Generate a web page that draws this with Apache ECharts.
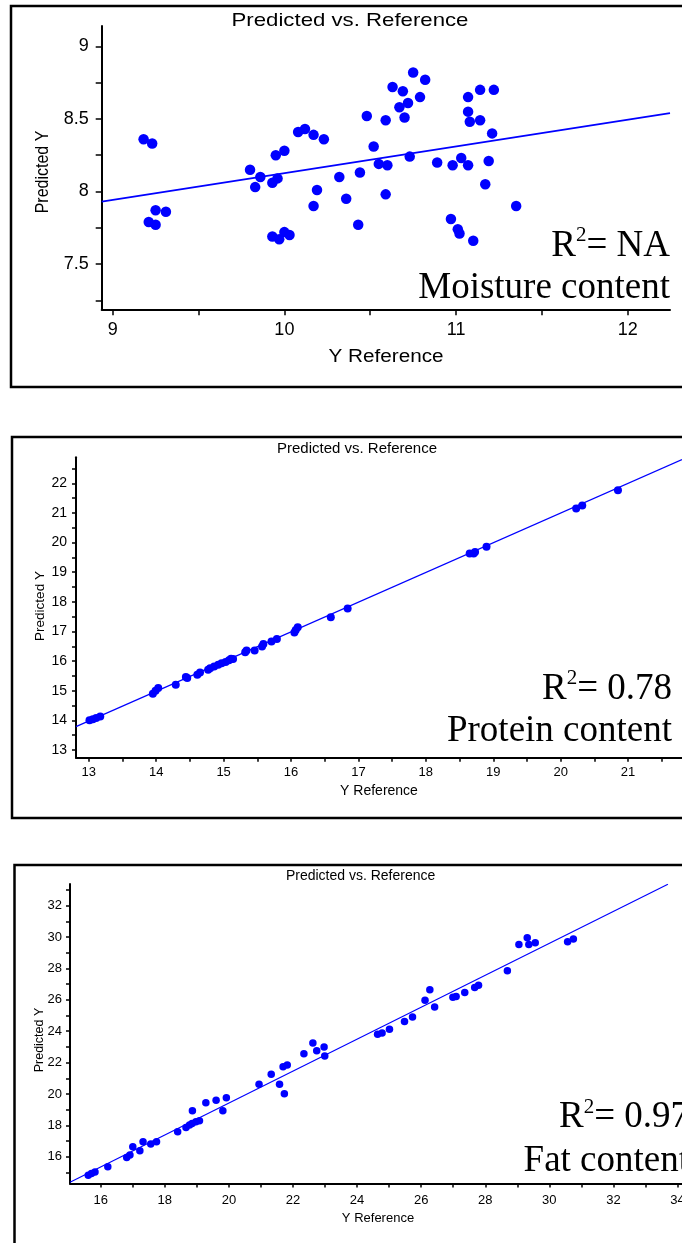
<!DOCTYPE html>
<html>
<head>
<meta charset="utf-8">
<script src="https://cdn.jsdelivr.net/npm/echarts@6/dist/echarts.min.js"></script>
<style>
  html, body { margin: 0; padding: 0; background: #fff; }
  #main { width: 682px; height: 1243px; }
</style>
</head>
<body>
<div id="main"></div>
<script>
// moisture panel
var moistureRef = [9.18, 9.23, 9.80, 9.86, 9.83, 9.93, 9.96, 9.95, 10.00, 10.08, 10.12, 10.17, 10.23, 10.19, 10.32,
    10.36, 10.44, 10.48, 10.52, 10.55, 10.60, 10.59, 10.59, 10.63, 10.67, 10.69, 10.72, 10.70, 10.73, 10.75,
    10.79, 10.82, 10.89, 10.98, 11.03, 11.07, 11.07, 11.07, 11.08, 11.14, 11.14, 11.22, 11.21, 11.19, 11.17,
    9.21, 9.25, 9.25, 9.31, 10.17, 9.93, 9.97, 10.00, 10.03, 10.43, 10.97, 11.01, 11.02, 11.10, 11.35];
var moisturePred = [8.36, 8.33, 8.15, 8.10, 8.03, 8.06, 8.09, 8.25, 8.28, 8.41, 8.43, 8.39, 8.36, 8.01, 8.10,
    7.95, 8.13, 8.52, 8.31, 8.19, 8.18, 8.49, 7.98, 8.72, 8.58, 8.69, 8.61, 8.51, 8.24, 8.82,
    8.65, 8.77, 8.20, 8.18, 8.23, 8.18, 8.65, 8.55, 8.48, 8.49, 8.70, 8.70, 8.40, 8.21, 8.05,
    7.79, 7.87, 7.77, 7.86, 7.90, 7.69, 7.67, 7.72, 7.70, 7.77, 7.81, 7.74, 7.71, 7.66, 7.90];
var moistureFitX = [8.936, 12.246];
var moistureFitY = [7.93, 8.54];
var moistureXLabels = [9, 10, 11, 12];
var moistureXTicks = [9, 9.5, 10, 10.5, 11, 11.5, 12];
var moistureYLabels = [7.5, 8, 8.5, 9];
var moistureYTicks = [7.25, 7.5, 7.75, 8, 8.25, 8.5, 8.75, 9];

// protein panel
var proteinRef = [20.85, 20.23, 20.32, 18.90, 18.65, 18.71, 18.73, 16.84, 16.59, 16.10, 16.05, 16.07, 15.79, 15.71,
    15.59, 15.57, 15.46, 15.34, 15.32, 15.14, 15.11, 15.08, 15.03, 14.97, 14.92, 14.86, 14.80, 14.77, 14.65,
    14.61, 14.46, 14.44, 14.29, 14.03, 13.99, 13.95, 13.17, 13.11, 13.06, 13.01];
var proteinPred = [21.77, 21.15, 21.25, 19.86, 19.63, 19.63, 19.68, 17.78, 17.48, 17.14, 16.97, 17.05, 16.75, 16.66,
    16.58, 16.49, 16.36, 16.36, 16.30, 16.07, 16.08, 16.03, 15.97, 15.93, 15.88, 15.82, 15.76, 15.71, 15.62,
    15.54, 15.43, 15.46, 15.20, 15.09, 15.00, 14.90, 14.13, 14.08, 14.04, 14.00];
var proteinFitX = [12.81, 21.80];
var proteinFitY = [13.79, 22.80];
var proteinXLabels = [13, 14, 15, 16, 17, 18, 19, 20, 21];
var proteinXTicks = [13, 13.5, 14, 14.5, 15, 15.5, 16, 16.5, 17, 17.5, 18, 18.5, 19, 19.5, 20, 20.5, 21, 21.5];
var proteinYLabels = [13, 14, 15, 16, 17, 18, 19, 20, 21, 22];
var proteinYTicks = [13, 13.5, 14, 14.5, 15, 15.5, 16, 16.5, 17, 17.5, 18, 18.5, 19, 19.5, 20, 20.5, 21, 21.5, 22, 22.5];

// fat panel
var fatRef = [30.75, 30.57, 29.56, 29.36, 29.31, 29.05, 28.69, 27.79, 27.67, 27.36, 27.09, 26.99, 26.27, 26.12,
    26.42, 25.73, 25.48, 25.01, 24.78, 24.64, 22.62, 22.97, 22.74, 22.34, 22.99, 21.82, 21.69, 21.32, 20.94,
    21.58, 21.73, 19.92, 19.60, 19.28, 18.86, 19.81, 19.08, 18.97, 18.85, 18.77, 18.66, 18.40, 17.74, 17.56,
    17.32, 17.22, 17.00, 16.91, 16.81, 16.22, 15.82, 15.71, 15.61];
var fatPred = [29.87, 29.70, 29.63, 29.53, 29.95, 29.53, 27.86, 26.93, 26.78, 26.46, 26.22, 26.16, 26.65, 25.97,
    25.54, 24.90, 24.62, 24.13, 23.88, 23.81, 23.25, 22.99, 22.75, 22.57, 22.43, 21.85, 21.74, 21.26, 20.62,
    20.62, 20.02, 19.77, 19.60, 19.45, 18.94, 18.94, 18.30, 18.23, 18.13, 18.02, 17.87, 17.60, 16.96, 16.81,
    16.96, 16.38, 16.64, 16.11, 15.96, 15.36, 15.04, 14.94, 14.83];
var fatFitX = [15.04, 33.70];
var fatFitY = [14.38, 33.36];
var fatXLabels = [16, 18, 20, 22, 24, 26, 28, 30, 32, 34];
var fatXTicks = [16, 17, 18, 19, 20, 21, 22, 23, 24, 25, 26, 27, 28, 29, 30, 31, 32, 33, 34];
var fatYLabels = [16, 18, 20, 22, 24, 26, 28, 30, 32];
var fatYTicks = [15, 16, 17, 18, 19, 20, 21, 22, 23, 24, 25, 26, 27, 28, 29, 30, 31, 32, 33];

var sansFont = 'Liberation Sans, Arial, sans-serif';
var serifFont = 'Liberation Serif, Times New Roman, serif';
var blue = '#0000ff';

function pairs(xs, ys) {
    var out = [];
    for (var i = 0; i < xs.length; i++) out.push([xs[i], ys[i]]);
    return out;
}

function makeAxis(idx, min, max, labels, ticks, fontSize, margin, tickLen) {
    return {
        type: 'value', gridIndex: idx, min: min, max: max,
        axisLine: { show: true, onZero: false, lineStyle: { color: '#000', width: 2 } },
        axisTick: { show: true, length: tickLen, customValues: ticks, lineStyle: { color: '#000', width: 1.5 } },
        axisLabel: { customValues: labels, color: '#000', fontSize: fontSize, fontFamily: sansFont, margin: margin },
        splitLine: { show: false }
    };
}

function sansText(txt, x, y, size, sx, sy, rot) {
    return {
        type: 'text', x: x, y: y, scaleX: sx, scaleY: sy, rotation: rot, z: 10,
        style: { text: txt, fill: '#000', fontSize: size, fontFamily: sansFont, align: 'center', verticalAlign: 'middle' }
    };
}

function serifText(txt, xRight, y) {
    return {
        type: 'text', x: xRight, y: y, z: 10,
        style: { text: txt, fill: '#000', fontSize: 37, fontFamily: serifFont, align: 'right', verticalAlign: 'middle' }
    };
}

// R squared label with a raised "2"
function r2Text(val, xRight, y) {
    return {
        type: 'text', x: xRight, y: y, z: 10,
        style: {
            text: '{a|R}{b|2}{a|= ' + val + '}',
            align: 'right', verticalAlign: 'middle',
            rich: {
                a: { fontSize: 37, fontFamily: serifFont, fill: '#000', lineHeight: 42 },
                b: { fontSize: 21, fontFamily: serifFont, fill: '#000', lineHeight: 42, verticalAlign: 'top' }
            }
        }
    };
}

function frame(x, y, w, h) {
    return {
        type: 'rect', z: 5, silent: true,
        shape: { x: x, y: y, width: w, height: h },
        style: { fill: 'none', stroke: '#000', lineWidth: 2.5 }
    };
}

var chart = echarts.init(document.getElementById('main'));

var option = {
    backgroundColor: '#fff',
    animation: false,
    grid: [
        { left: 101.7, top: 26, width: 568.3, height: 283.3, outerBoundsMode: 'none' },
        { left: 76, top: 457.3, width: 606, height: 300.4, outerBoundsMode: 'none' },
        { left: 70, top: 884, width: 612, height: 299.5, outerBoundsMode: 'none' }
    ],
    xAxis: [
        makeAxis(0, 8.936, 12.246, moistureXLabels, moistureXTicks, 18, 12, 6),
        makeAxis(1, 12.81, 21.80, proteinXLabels, proteinXTicks, 13, 8, 4),
        makeAxis(2, 15.04, 34.14, fatXLabels, fatXTicks, 13, 10, 4)
    ],
    yAxis: [
        makeAxis(0, 7.188, 9.14, moistureYLabels, moistureYTicks, 18, 13, 6),
        makeAxis(1, 12.74, 22.88, proteinYLabels, proteinYTicks, 14, 9, 4),
        makeAxis(2, 14.3, 33.38, fatYLabels, fatYTicks, 13, 8, 4)
    ],
    series: [
        { type: 'scatter', xAxisIndex: 0, yAxisIndex: 0, symbolSize: 10.5, itemStyle: { color: blue, opacity: 1 },
          data: pairs(moistureRef, moisturePred) },
        { type: 'line', xAxisIndex: 0, yAxisIndex: 0, showSymbol: false, lineStyle: { color: blue, width: 1.8 },
          data: pairs(moistureFitX, moistureFitY) },
        { type: 'scatter', xAxisIndex: 1, yAxisIndex: 1, symbolSize: 8, itemStyle: { color: blue, opacity: 1 },
          data: pairs(proteinRef, proteinPred) },
        { type: 'line', xAxisIndex: 1, yAxisIndex: 1, showSymbol: false, lineStyle: { color: blue, width: 1.2 },
          data: pairs(proteinFitX, proteinFitY) },
        { type: 'scatter', xAxisIndex: 2, yAxisIndex: 2, symbolSize: 7.5, itemStyle: { color: blue, opacity: 1 },
          data: pairs(fatRef, fatPred) },
        { type: 'line', xAxisIndex: 2, yAxisIndex: 2, showSymbol: false, lineStyle: { color: blue, width: 1.2 },
          data: pairs(fatFitX, fatFitY) }
    ],
    graphic: [
        frame(11, 6, 700, 381),
        frame(12, 437, 700, 381),
        frame(14.5, 865, 700, 420),

        sansText('Predicted vs. Reference', 350, 21, 18.5, 1.2, 1, 0),
        sansText('Y Reference', 386, 357, 18, 1.15, 1, 0),
        sansText('Predicted Y', 43, 172, 16, 1, 1.2, Math.PI / 2),
        r2Text('NA', 670, 246),
        serifText('Moisture content', 670, 288.5),

        sansText('Predicted vs. Reference', 357, 449, 15, 1, 1, 0),
        sansText('Y Reference', 379, 791, 14, 1, 1, 0),
        sansText('Predicted Y', 40, 606, 13.5, 1, 1, Math.PI / 2),
        r2Text('0.78', 672, 689),
        serifText('Protein content', 672, 731.6),

        sansText('Predicted vs. Reference', 360.6, 876, 14, 1, 1, 0),
        sansText('Y Reference', 378, 1218, 13, 1, 1, 0),
        sansText('Predicted Y', 40, 1040, 12.5, 1, 1, Math.PI / 2),
        r2Text('0.97', 689, 1117.5),
        serifText('Fat content', 689, 1161.5)
    ]
};

chart.setOption(option);
</script>
</body>
</html>
